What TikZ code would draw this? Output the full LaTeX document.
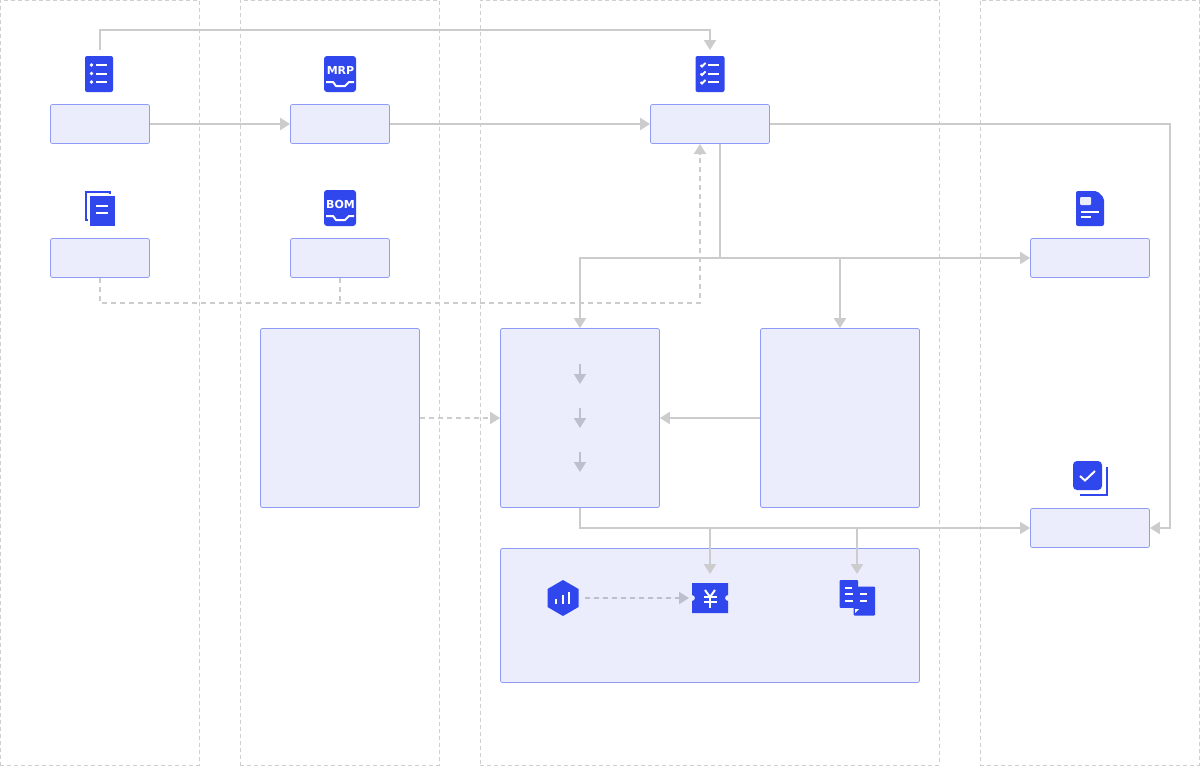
\documentclass[tikz,border=0pt]{standalone}
\usepackage{fontspec}
\setmainfont{DejaVu Sans}
\usetikzlibrary{positioning,arrows.meta}

\definecolor{boxfill}{HTML}{EBEDFC}
\definecolor{boxline}{HTML}{8E9CF6}
\definecolor{iconblue}{HTML}{3047EE}
\definecolor{conn}{HTML}{CCCCCC}
\definecolor{connin}{HTML}{BDBFCC}
\definecolor{lane}{HTML}{CFCFCF}

\begin{document}
\begin{tikzpicture}[x=1pt, y=-1pt]
  % styles
  \tikzset{
    lanebox/.style={draw=lane, line width=0.8pt, dash pattern=on 4pt off 3pt, anchor=north west, inner sep=0pt},
    b/.style={draw=boxline, fill=boxfill, line width=0.8pt, rounded corners=2pt, inner sep=0pt},
    e/.style={draw=conn, line width=2pt, -{Triangle[length=10pt, width=12pt]}},
    p/.style={draw=conn, line width=2pt},
    d/.style={e, dash pattern=on 5pt off 4pt},
    dp/.style={p, dash pattern=on 5pt off 4pt},
    ein/.style={e, draw=connin, fill=connin},
    dein/.style={d, draw=connin, fill=connin},
    wl/.style={draw=white, line width=2pt},
    wt/.style={text=white, font=\bfseries\fontsize{11}{13}\selectfont, inner sep=0pt}
  }
  \useasboundingbox (0,0) rectangle (1200,766);

  % lanes
  \node[lanebox, minimum width=199pt, minimum height=765pt] (laneA) at (0,0) {};
  \node[lanebox, minimum width=199pt, minimum height=765pt] (laneB) at (240,0) {};
  \node[lanebox, minimum width=459pt, minimum height=765pt] (laneC) at (480,0) {};
  \node[lanebox, minimum width=219pt, minimum height=765pt] (laneD) at (980,0) {};

  % boxes
  \node[b, minimum width=99pt, minimum height=39pt] (order) at (100,124) {};
  \node[b, minimum width=99pt, minimum height=39pt] (mrp) at (340,124) {};
  \node[b, minimum width=119pt, minimum height=39pt] (plan) at (710,124) {};
  \node[b, minimum width=99pt, minimum height=39pt] (copy) at (100,258) {};
  \node[b, minimum width=99pt, minimum height=39pt] (bom) at (340,258) {};
  \node[b, minimum width=119pt, minimum height=39pt] (doc) at (1090,258) {};
  \node[b, minimum width=159pt, minimum height=179pt] (stock) at (340,418) {};
  \node[b, minimum width=159pt, minimum height=179pt] (work) at (580,418) {};
  \node[b, minimum width=159pt, minimum height=179pt] (supply) at (840,418) {};
  \node[b, minimum width=119pt, minimum height=39pt] (check) at (1090,528) {};
  \node[b, minimum width=419pt, minimum height=134pt] (cost) at (710,615.5) {};

  % free ends
  \coordinate (orderTop) at (100,50);
  \coordinate (planTop) at (710,50);
  \coordinate (planOut) at (720,144);
  \coordinate (planIn) at (700,144);
  \coordinate (hub) at (720,258);
  \coordinate (hubB) at (840,258);
  \coordinate (merge) at (580,528);
  \coordinate (costA) at (710,528);
  \coordinate (costB) at (857,528);
  \coordinate (costAend) at (710,574);
  \coordinate (costBend) at (857,574);
  \coordinate (dashJoin) at (340,303);
  \coordinate (stepA) at (580,364);
  \coordinate (stepAend) at (580,384);
  \coordinate (stepB) at (580,408);
  \coordinate (stepBend) at (580,428);
  \coordinate (stepC) at (580,452);
  \coordinate (stepCend) at (580,472);
  \coordinate (hexOut) at (585,598);
  \coordinate (ticketIn) at (689,598);

  % edges
  \draw[e] (orderTop) -- (100,30) -- (710,30) -- (planTop);
  \draw[e] (order.east) -- (mrp.west);
  \draw[e] (mrp.east) -- (plan.west);
  \draw[e] (plan.east) -- (1170,124) |- (check.east);
  \draw[p] (planOut) -- (hub);
  \draw[e] (hub) -| (work.north);
  \draw[e] (hub) -- (doc.west);
  \draw[e] (hubB) -- (supply.north);
  \draw[d] (copy.south) |- (700,303) -- (planIn);
  \draw[dp] (bom.south) -- (dashJoin);
  \draw[d] (stock.east) -- (work.west);
  \draw[e] (supply.west) -- (work.east);
  \draw[e] (work.south) |- (check.west);
  \draw[e] (costA) -- (costAend);
  \draw[e] (costB) -- (costBend);
  \draw[ein] (stepA) -- (stepAend);
  \draw[ein] (stepB) -- (stepBend);
  \draw[ein] (stepC) -- (stepCend);
  \draw[dein] (hexOut) -- (ticketIn);

  % icon: list
  \fill[iconblue, rounded corners=2pt] (85,56) rectangle (113,92);
  \foreach \y in {65,73.5,82} {
    \fill[white] (91.5,\y) circle (1.8pt);
    \draw[wl] (96,\y) -- (107,\y);
  }

  % icon: MRP
  \fill[iconblue, rounded corners=3pt] (324,56) rectangle (356,92);
  \node[wt] (mrpText) at (340.5,70) {MRP};
  \draw[wl] (326,82) -- (333,82) -- (336,86) -- (345,86) -- (349,82) -- (354,82);

  % icon: BOM
  \fill[iconblue, rounded corners=3pt] (324,190) rectangle (356,226);
  \node[wt] (bomText) at (340.5,204) {BOM};
  \draw[wl] (326,216) -- (333,216) -- (336,220) -- (345,220) -- (349,216) -- (354,216);

  % icon: copies
  \draw[draw=iconblue, line width=2pt] (86,191.5) rectangle (109.5,220);
  \fill[white] (88,194) rectangle (115,227);
  \fill[iconblue] (90,196) rectangle (115,226);
  \draw[wl] (96,206) -- (108,206);
  \draw[wl] (96,213) -- (108,213);

  % icon: checklist
  \fill[iconblue, rounded corners=2pt] (695.5,56) rectangle (724.5,92);
  \foreach \y in {65,73.5,82} {
    \draw[draw=white, line width=1.8pt] (700.5,\y) -- (702,\y+1.5) -- (705.5,\y-2);
    \draw[wl] (708,\y) -- (719,\y);
  }

  % icon: document
  \fill[iconblue, rounded corners=2pt] (1076,191) -- (1097,191) -- (1104,198) -- (1104,226) -- (1076,226) -- cycle;
  \fill[boxfill, rounded corners=1pt] (1080,197) rectangle (1091,205);
  \draw[wl] (1081,211.5) -- (1099,211.5);
  \draw[wl] (1081,217) -- (1091,217);

  % icon: approved
  \draw[draw=iconblue, line width=2pt] (1106.7,467) -- (1106.7,495) -- (1080,495);
  \fill[iconblue, rounded corners=4pt] (1073,461) rectangle (1102,490);
  \draw[draw=white, line width=2pt] (1080,476) -- (1085,480.5) -- (1095,471);

  % icon: hexagon
  \fill[iconblue] (563,580) -- (578.5,589) -- (578.5,607) -- (563,616) -- (547.5,607) -- (547.5,589) -- cycle;
  \draw[wl] (556,603.5) -- (556,598.5);
  \draw[wl] (562.7,603.5) -- (562.7,595);
  \draw[wl] (569.3,603.5) -- (569.3,591.5);

  % icon: ticket
  \fill[iconblue] (692,583) -- (728,583) -- (728,595) arc (90:270:3pt) -- (728,613) -- (692,613) -- (692,601) arc (-90:90:3pt) -- cycle;
  \draw[wl] (705,590) -- (710,597) -- (715,590);
  \draw[wl] (703.5,596.7) -- (716.5,596.7);
  \draw[wl] (703.5,601.7) -- (716.5,601.7);
  \draw[wl] (710,597) -- (710,608);

  % icon: two sheets
  \fill[iconblue, rounded corners=1pt] (839.5,580) rectangle (858,608);
  \fill[iconblue, rounded corners=1pt] (853.5,586.5) rectangle (875,615.5);
  \fill[boxfill] (839.5,608.3) rectangle (853.3,616);
  \fill[white] (855,609) -- (859,609) -- (855,613) -- cycle;
  \draw[wl] (844.5,587.7) -- (852,587.7);
  \draw[wl] (844.5,594.3) -- (853,594.3);
  \draw[wl] (844.5,601.3) -- (853,601.3);
  \draw[wl] (860,594.3) -- (867,594.3);
  \draw[wl] (860,601.3) -- (867,601.3);
\end{tikzpicture}
\end{document}
